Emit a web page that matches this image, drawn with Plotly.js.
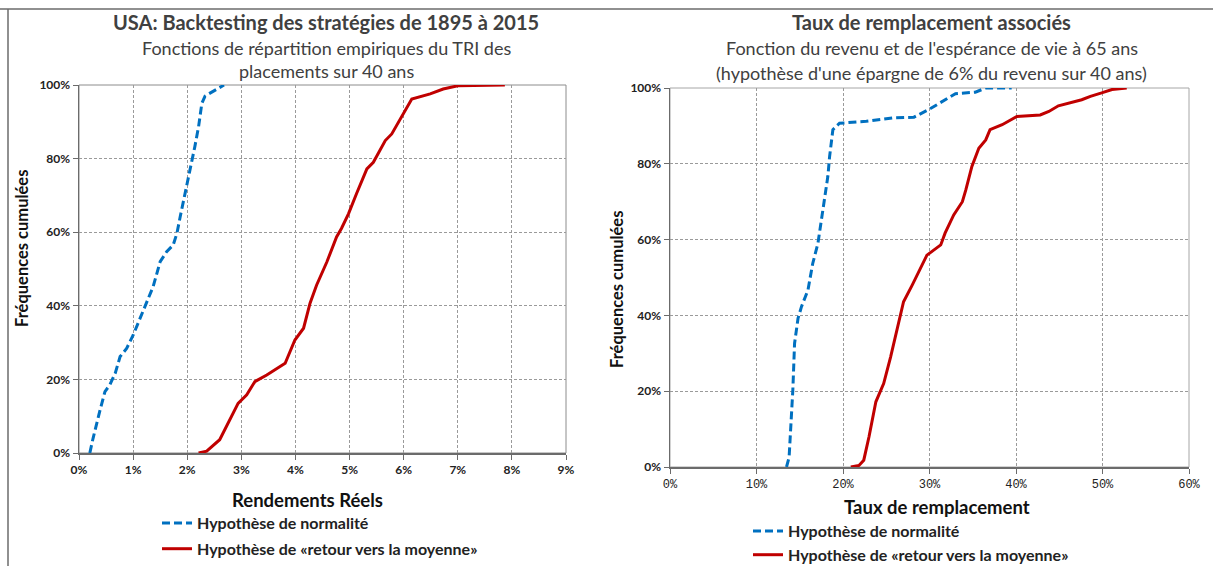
<!DOCTYPE html>
<html>
<head>
<meta charset="utf-8">
<script src="https://cdn.plot.ly/plotly-3.0.1.min.js"></script>
<style>html,body{margin:0;padding:0;background:#fff;}#chart{width:1213px;height:566px;}</style>
</head>
<body>
<div id="chart"></div>
<script>
// ---- Data (percent values) ----
const leftNormX = [0.20,0.26,0.39,0.48,0.57,0.67,0.76,0.88,1.00,1.13,1.25,1.37,1.50,1.62,1.74,1.81,1.87,1.96,2.05,2.14,2.21,2.27,2.33,2.48,2.58,2.68];
const leftNormY = [0,4,11.7,16.7,18.5,21.7,26.2,28.4,32,36.6,40.7,45.2,52,54.7,56.5,59.7,64.2,70.6,76,83.2,88.7,95,97,98.2,99.2,100];

const leftMeanX = [2.21,2.36,2.60,2.79,2.94,3.10,3.25,3.47,3.65,3.81,3.99,4.15,4.27,4.39,4.58,4.76,4.85,4.98,5.13,5.32,5.44,5.66,5.78,6.00,6.15,6.49,6.73,7.00,7.87];
const leftMeanY = [0,0.5,3.6,9.0,13.5,15.8,19.4,21.2,23,24.4,30.7,33.9,40.7,45.6,51.9,58.7,61,65,70.5,77.2,79,84.9,86.7,92.6,96.2,97.6,98.9,99.8,100];

const rightNormX = [13.47,13.77,14.2,14.4,14.8,15.2,15.95,16.5,17.1,17.7,18.25,18.45,18.83,19.6,22.7,25.7,28.2,29.9,31.5,33.0,35.3,36.5,39.5];
const rightNormY = [0,2.6,20.3,32.6,39.2,42.3,46.7,53.7,59,68.7,76.7,81.9,89,90.7,91.2,92.1,92.3,94.3,96.5,98.5,98.9,100,100];

const rightMeanX = [20.9,21.85,22.4,23.0,23.8,24.7,25.5,26.3,27.0,28.0,29.0,29.7,31.3,31.8,32.8,33.8,34.2,34.9,35.7,36.5,37.0,38.4,40.1,42.8,43.8,44.9,47.6,48.6,49.9,51.1,52.8];
const rightMeanY = [0,0.4,1.8,7.9,17.2,22,29,37,43.6,48,52.9,55.9,58.6,61.7,66.5,70,73.1,79.3,84.1,86.3,89,90.3,92.5,92.9,93.8,95.3,96.9,97.8,98.7,99.6,100];

const seriesNames = ["Hypothèse de normalité", "Hypothèse de «retour vers la moyenne»"];
const leftTitles = ["USA: Backtesting des stratégies de 1895 à 2015", "Fonctions de répartition empiriques du TRI des", "placements sur 40 ans"];
const rightTitles = ["Taux de remplacement associés", "Fonction du revenu et de l'espérance de vie à 65 ans", "(hypothèse d'une épargne de 6% du revenu sur 40 ans)"];
const xTitles = ["Rendements Réels", "Taux de remplacement"];
const yTitle = "Fréquences cumulées";

const pct = a => a.map(v => v / 100);
const BLUE = "#0070C0", RED = "#C00000";
const FONT = "Lato, 'Noto Sans', sans-serif";

const traces = [
  {x: pct(leftNormX), y: pct(leftNormY), xaxis: "x", yaxis: "y", mode: "lines", name: seriesNames[0],
   line: {color: BLUE, width: 3, dash: "8px,4px"}, legend: "legend", legendgroup: "a"},
  {x: pct(leftMeanX), y: pct(leftMeanY), xaxis: "x", yaxis: "y", mode: "lines", name: seriesNames[1],
   line: {color: RED, width: 3}, legend: "legend", legendgroup: "b"},
  {x: pct(rightNormX), y: pct(rightNormY), xaxis: "x2", yaxis: "y2", mode: "lines", name: seriesNames[0],
   line: {color: BLUE, width: 3, dash: "8px,4px"}, legend: "legend2", legendgroup: "r"},
  {x: pct(rightMeanX), y: pct(rightMeanY), xaxis: "x2", yaxis: "y2", mode: "lines", name: seriesNames[1],
   line: {color: RED, width: 3}, legend: "legend2", legendgroup: "r"}
];

const W = 1213, H = 566;
const px = v => v / W, py = v => 1 - v / H;

const gridCommon = {
  showgrid: true, gridcolor: "#9a9a9a", gridwidth: 1, griddash: "3px,2px",
  showline: true, linecolor: "#6b6b6b", linewidth: 1.5,
  ticks: "outside", ticklen: 5, tickcolor: "#6b6b6b", zeroline: false, fixedrange: true,
  automargin: false
};
const boldTick = {family: FONT, size: 12, color: "#222", weight: "bold"};
const titleFont = {family: FONT, size: 20, color: "#404040", weight: "bold"};
const subFont = {family: FONT, size: 18, color: "#404040"};
const axTitleFont = {family: FONT, size: 18.5, color: "#111", weight: "bold"};
const yTitleFont = {family: FONT, size: 16.5, color: "#111", weight: "bold"};

function ann(text, x, y, font, extra) {
  return Object.assign({text: text, x: px(x), y: py(y), xref: "paper", yref: "paper",
    xanchor: "center", yanchor: "middle", showarrow: false, font: font}, extra || {});
}

const layout = {
  width: W, height: H,
  margin: {l: 0, r: 0, t: 0, b: 0, autoexpand: false},
  paper_bgcolor: "#fff", plot_bgcolor: "#fff",
  font: {family: FONT, color: "#333"},
  xaxis: Object.assign({}, gridCommon, {
    domain: [px(79), px(566)], range: [0, 0.09], dtick: 0.01, tick0: 0, tickformat: ".0%",
    anchor: "y", tickfont: boldTick, ticklabelstandoff: 0
  }),
  yaxis: Object.assign({}, gridCommon, {
    domain: [py(453), py(85)], range: [0, 1], dtick: 0.2, tickformat: ".0%", anchor: "x",
    tickfont: boldTick
  }),
  xaxis2: Object.assign({}, gridCommon, {
    domain: [px(670), px(1189)], range: [0, 0.6], dtick: 0.1, tick0: 0, tickformat: ".0%",
    anchor: "y2", ticklabelstandoff: 0,
    tickfont: {family: "'Liberation Mono', 'DejaVu Sans Mono', monospace", size: 12, color: "#222"}
  }),
  yaxis2: Object.assign({}, gridCommon, {
    domain: [py(467), py(88)], range: [0, 1], dtick: 0.2, tickformat: ".0%", anchor: "x2",
    tickfont: boldTick
  }),
  showlegend: true,
  legend: {x: px(157), y: py(506), xanchor: "left", yanchor: "top", bgcolor: "rgba(0,0,0,0)",
    font: {family: FONT, size: 16, color: "#222", weight: "bold"}, traceorder: "grouped", tracegroupgap: 2,
    itemwidth: 30},
  legend2: {x: px(748), y: py(514), xanchor: "left", yanchor: "top", bgcolor: "rgba(0,0,0,0)",
    font: {family: FONT, size: 16, color: "#222", weight: "bold"}, traceorder: "grouped", tracegroupgap: 0,
    itemwidth: 30},
  shapes: [
    {type: "line", xref: "paper", yref: "paper", x0: 0, x1: 1, y0: py(9), y1: py(9), line: {color: "#6b6b6b", width: 1.5}},
    {type: "line", xref: "paper", yref: "paper", x0: px(8), x1: px(8), y0: py(9), y1: 0, line: {color: "#6b6b6b", width: 1.5}},
    {type: "rect", xref: "x domain", yref: "y domain", x0: 0, x1: 1, y0: 0, y1: 1, layer: "below", line: {color: "#8c8c8c", width: 1}},
    {type: "rect", xref: "x2 domain", yref: "y2 domain", x0: 0, x1: 1, y0: 0, y1: 1, layer: "below", line: {color: "#a6a6a6", width: 1}}
  ],
  annotations: [
    ann(leftTitles[0], 326, 22, titleFont),
    ann(leftTitles[1], 326, 48, subFont),
    ann(leftTitles[2], 326, 71, subFont),
    ann(rightTitles[0], 932, 22, titleFont),
    ann(rightTitles[1], 932, 48, subFont),
    ann(rightTitles[2], 932, 73, subFont),
    ann(xTitles[0], 307, 500, axTitleFont),
    ann(xTitles[1], 937, 507, axTitleFont),
    ann(yTitle, 22, 249, yTitleFont, {textangle: -90}),
    ann(yTitle, 617, 290, yTitleFont, {textangle: -90})
  ]
};

Plotly.newPlot("chart", traces, layout, {displayModeBar: false, staticPlot: true});
</script>
</body>
</html>
